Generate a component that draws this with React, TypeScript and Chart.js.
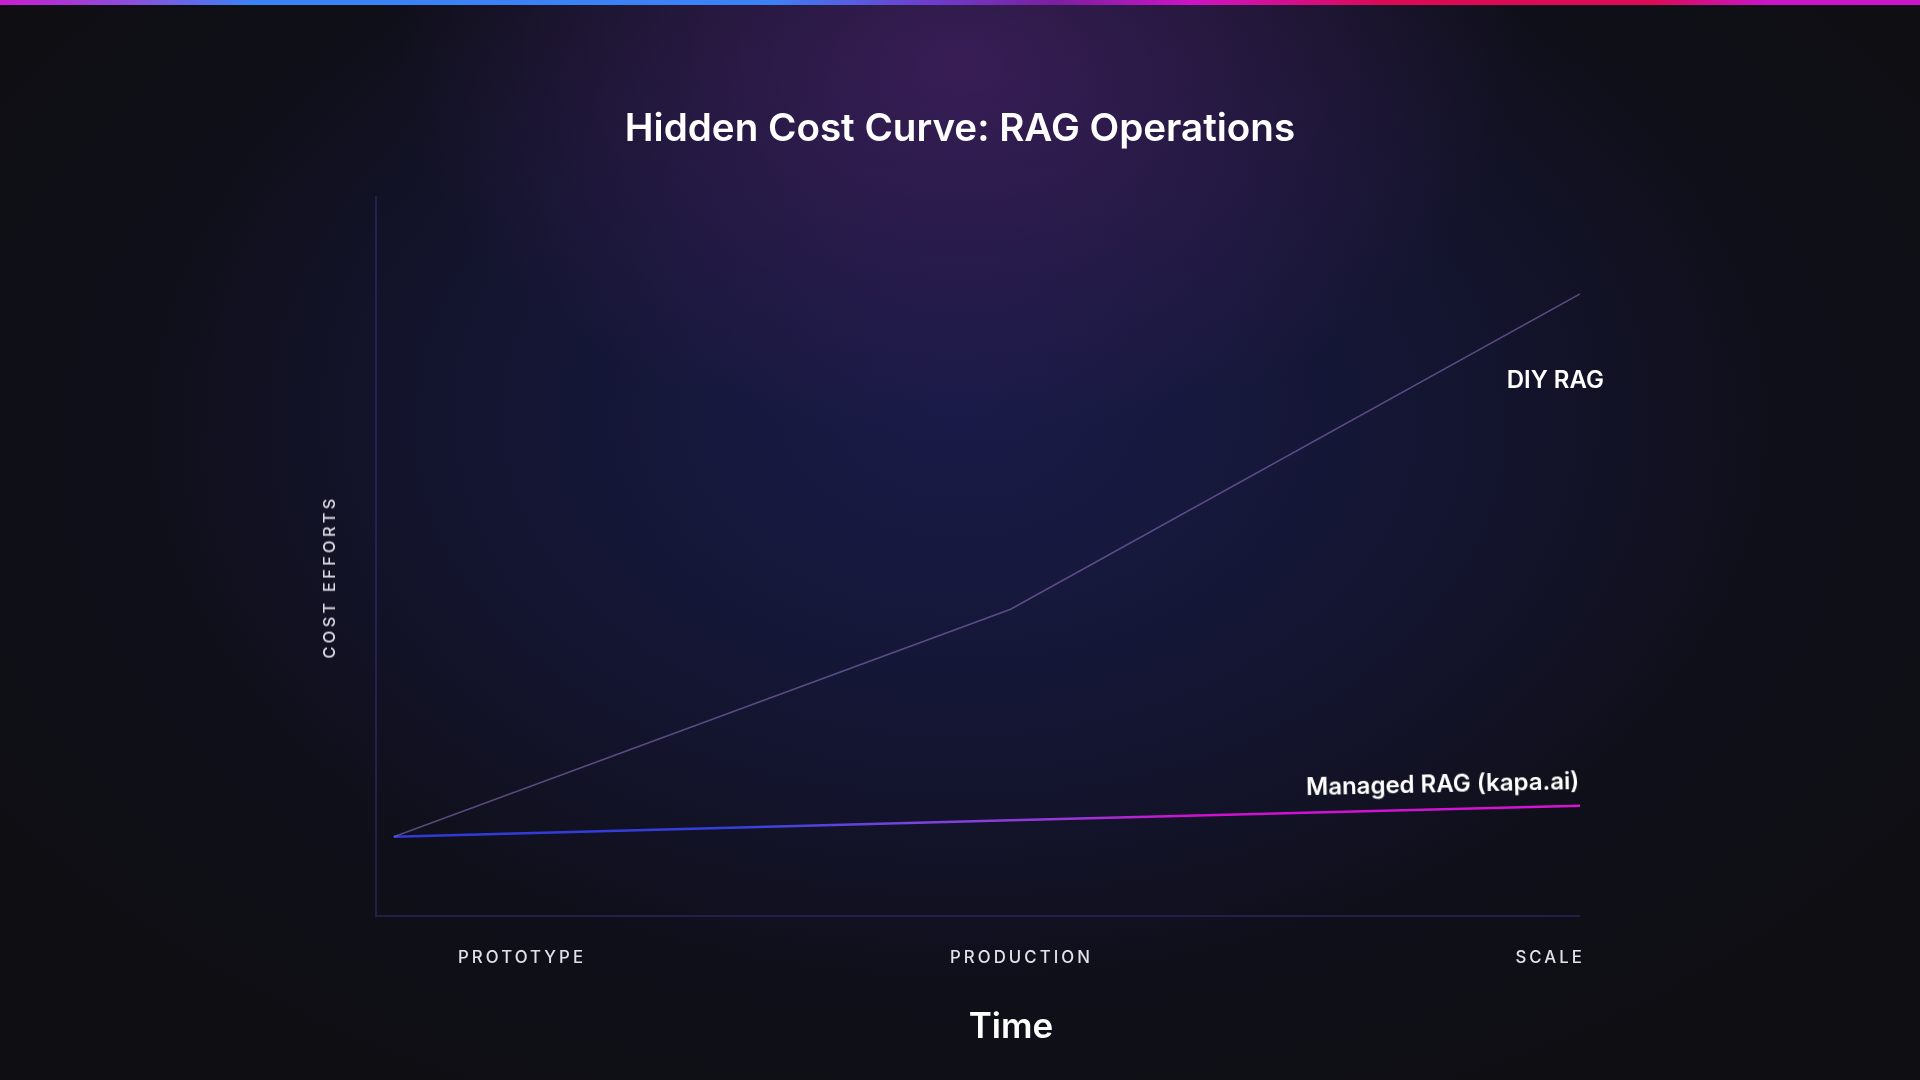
import React, { useEffect, useRef } from "react";
import { Chart, registerables } from "chart.js";

Chart.register(...registerables);

const stageLabels = ["PROTOTYPE", "PRODUCTION", "SCALE"];
const stageX = [0, 52, 100];
const diyValues = [11, 42.6, 86.4];
const managedValues = [11, 13.3, 15.3];
const seriesNames = ["DIY RAG", "Managed RAG (kapa.ai)"];

const FONT = "Inter, 'Noto Sans', sans-serif";

const axisPlugin = {
  id: "axisLines",
  beforeDatasetsDraw(chart: any) {
    const { ctx, chartArea } = chart;
    ctx.save();
    ctx.strokeStyle = "rgba(60, 52, 130, 0.45)";
    ctx.lineWidth = 2;
    ctx.beginPath();
    ctx.moveTo(chartArea.left, chartArea.top);
    ctx.lineTo(chartArea.left, chartArea.bottom);
    ctx.lineTo(chartArea.right, chartArea.bottom);
    ctx.stroke();
    ctx.restore();
  },
};

export default function App() {
  const ref = useRef<HTMLCanvasElement | null>(null);

  useEffect(() => {
    document.body.style.margin = "0";
    const canvas = ref.current!;
    const chart = new Chart(canvas, {
      type: "line",
      data: {
        datasets: [
          {
            label: seriesNames[0],
            data: stageX.map((x, i) => ({ x, y: diyValues[i] })),
            borderColor: "rgba(150, 120, 200, 0.55)",
            borderWidth: 1.5,
            pointRadius: 0,
            tension: 0,
          },
          {
            label: seriesNames[1],
            data: stageX.map((x, i) => ({ x, y: managedValues[i] })),
            borderColor: (c: any) => {
              const { chart } = c;
              const area = chart.chartArea;
              if (!area) return "#6d28d9";
              const g = chart.ctx.createLinearGradient(area.left, 0, area.right, 0);
              g.addColorStop(0, "#3038d8");
              g.addColorStop(0.3, "#3540dc");
              g.addColorStop(0.45, "#7a44dc");
              g.addColorStop(0.58, "#9a36d6");
              g.addColorStop(0.68, "#d010d0");
              g.addColorStop(1, "#d414d4");
              return g;
            },
            borderWidth: 2.5,
            pointRadius: 0,
            tension: 0,
          },
        ],
      },
      options: {
        animation: false,
        responsive: false,
        maintainAspectRatio: false,
        layout: { padding: { left: 376, top: 196, right: 340, bottom: 164 } },
        plugins: { legend: { display: false }, tooltip: { enabled: false } },
        scales: {
          x: { type: "linear", min: -1.5, max: 100, display: false },
          y: { type: "linear", min: 0, max: 100, display: false },
        },
      },
      plugins: [axisPlugin],
    });
    return () => chart.destroy();
  }, []);

  const textBase: React.CSSProperties = { position: "absolute", fontFamily: FONT, margin: 0 };

  return (
    <div
      style={{
        position: "relative",
        width: 1920,
        height: 1080,
        overflow: "hidden",
        background:
          "radial-gradient(ellipse 560px 380px at 50% 6%, rgba(68, 32, 98, 0.75), rgba(68,32,98,0) 100%)," +
          "radial-gradient(ellipse 820px 580px at 50% 38%, rgba(24, 27, 72, 0.95), rgba(24,27,72,0) 100%)," +
          "radial-gradient(ellipse 1150px 720px at 50% 42%, rgba(20, 20, 48, 0.85), rgba(20,20,48,0) 100%)," +
          "#0e0e13",
      }}
    >
      <div
        style={{
          position: "absolute",
          left: 0,
          top: 0,
          width: 1920,
          height: 5,
          background:
            "linear-gradient(90deg, #c81ed0 0%, #8a50dc 7%, #3b82f6 13%, #3b82f6 40%, #6d3fd0 48%, #7c1fa0 55%, #cc14c8 62%, #dc0a55 72%, #dc0a55 86%, #c816c8 92%, #c816c8 100%)",
        }}
      />
      <canvas ref={ref} width={1920} height={1080} style={{ position: "absolute", left: 0, top: 0 }} />
      <div
        style={{
          ...textBase,
          left: 0,
          width: 1920,
          top: 104,
          textAlign: "center",
          fontSize: 38.6,
          fontWeight: 600,
          color: "#ffffff",
          lineHeight: "46px",
        }}
      >
        Hidden Cost Curve: RAG Operations
      </div>
      <div
        style={{
          ...textBase,
          left: 329,
          top: 577,
          transform: "translate(-50%, -50%) rotate(-90deg)",
          whiteSpace: "nowrap",
          fontSize: 16.5,
          fontWeight: 500,
          letterSpacing: 3.2,
          color: "#dcdce4",
        }}
      >
        COST EFFORTS
      </div>
      <div
        style={{
          ...textBase,
          left: 458,
          width: 1127,
          top: 946,
          display: "grid",
          gridTemplateColumns: "1fr 1fr 1fr",
          fontSize: 16.8,
          fontWeight: 500,
          letterSpacing: 3.05,
          color: "#e2e2ea",
          lineHeight: "22px",
        }}
      >
        <span style={{ textAlign: "left" }}>{stageLabels[0]}</span>
        <span style={{ textAlign: "center" }}>{stageLabels[1]}</span>
        <span style={{ textAlign: "right" }}>{stageLabels[2]}</span>
      </div>
      <div
        style={{
          ...textBase,
          left: 1011,
          top: 1004,
          transform: "translateX(-50%)",
          fontSize: 35,
          fontWeight: 600,
          color: "#ffffff",
          lineHeight: "42px",
        }}
      >
        Time
      </div>
      <div
        style={{
          ...textBase,
          right: 1920 - 1604,
          top: 365,
          fontSize: 24,
          fontWeight: 600,
          color: "#ffffff",
          lineHeight: "30px",
        }}
      >
        {seriesNames[0]}
      </div>
      <div
        style={{
          ...textBase,
          right: 1920 - 1579,
          top: 766,
          fontSize: 24,
          fontWeight: 600,
          color: "#ffffff",
          lineHeight: "30px",
          transform: "rotate(-1.3deg)",
          transformOrigin: "right center",
          whiteSpace: "nowrap",
        }}
      >
        {seriesNames[1]}
      </div>
    </div>
  );
}
